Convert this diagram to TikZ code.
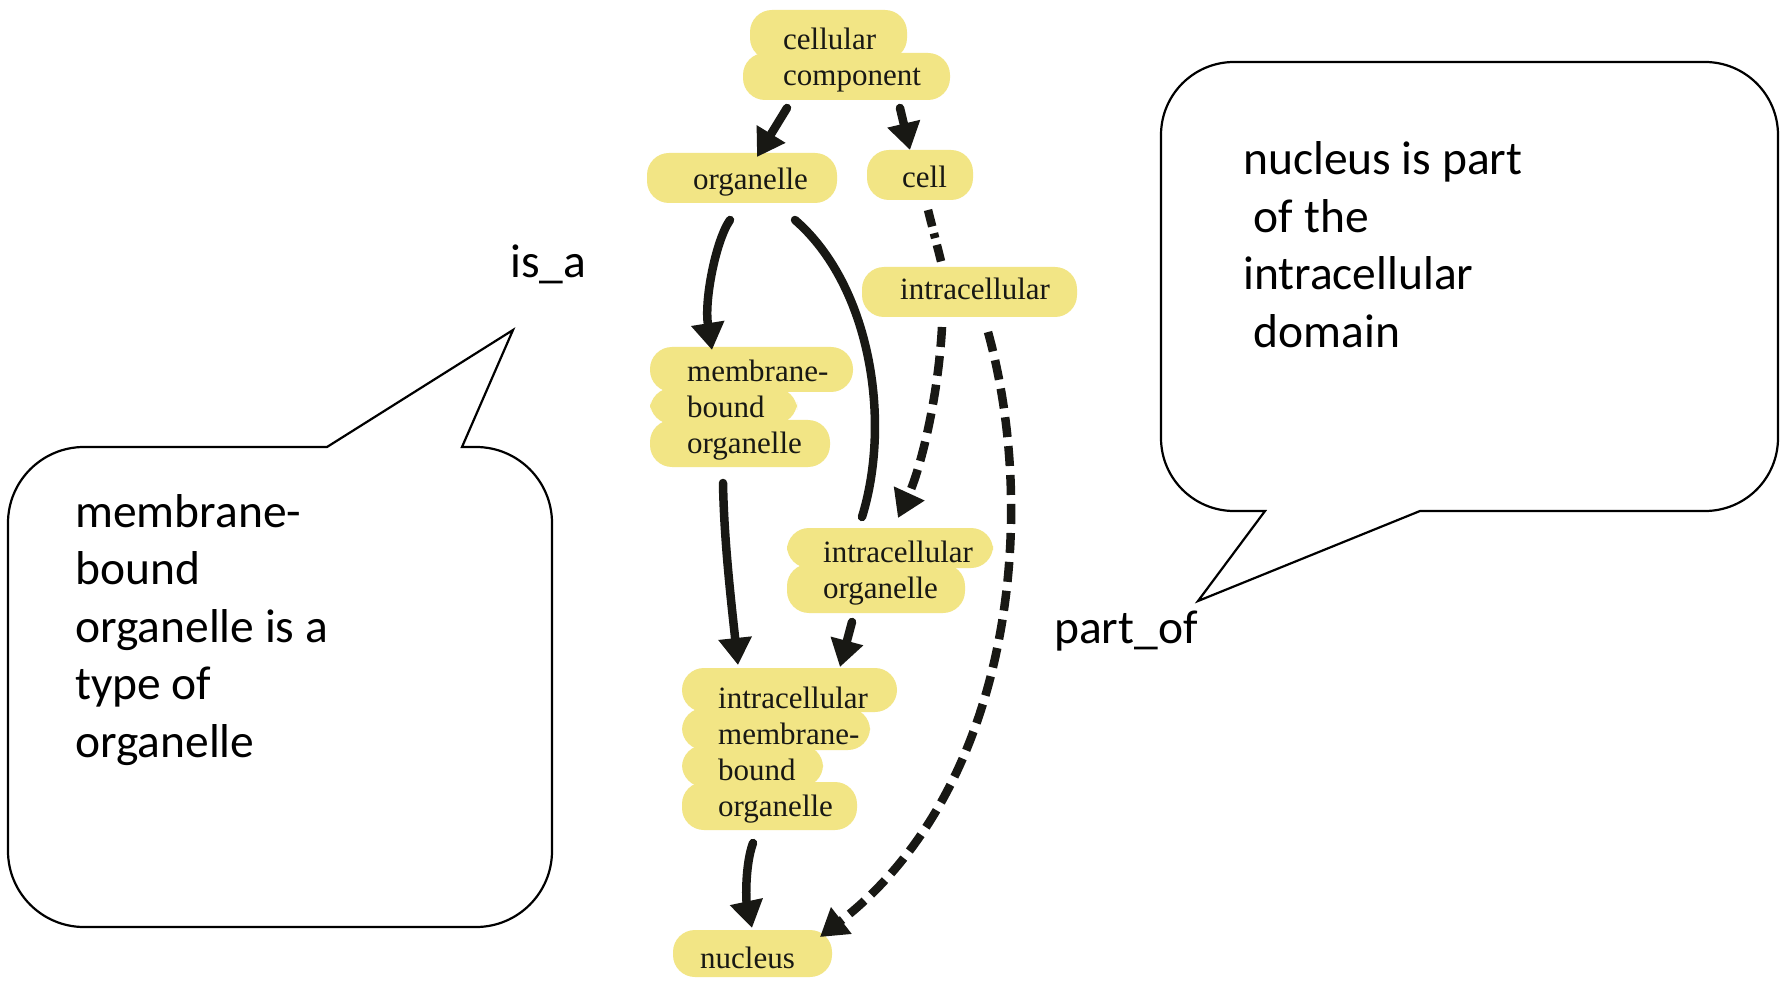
\documentclass[tikz,border=0pt]{standalone}
\usepackage{fontspec}
\setmainfont{Liberation Serif}
\newfontfamily\calfont{Carlito}
\usetikzlibrary{arrows.meta}
\definecolor{hl}{RGB}{242,229,133}
\definecolor{ink}{RGB}{24,24,20}
\newcommand\lns[1]{\begin{tabular}[t]{@{}l@{}}#1\end{tabular}}
\begin{document}
\begin{tikzpicture}[x=1pt,y=1pt,
  term/.style={anchor=base west, inner sep=0pt, font=\fontsize{31}{36}\selectfont, text=ink},
  blob/.style={fill=hl, rounded corners=22pt},
  isa/.style={line width=8.5pt, draw=ink, line cap=round, -{Triangle[width=32pt,length=27pt]}},
  isaplain/.style={line width=8.5pt, draw=ink, line cap=round},
  partof/.style={line width=8.5pt, draw=ink, dash pattern=on 20pt off 9pt, -{Triangle[width=32pt,length=27pt]}},
  dashdot/.style={line width=8.5pt, draw=ink, dash pattern=on 17pt off 7pt on 5pt off 7pt},
  callout/.style={draw=black, line width=2.2pt, line join=miter},
  note/.style={anchor=base west, inner sep=0pt, font=\calfont\fontsize{47.5}{57.5}\selectfont}
]
\fill[white] (0,0) rectangle (1781,-981);
\useasboundingbox (0,0) rectangle (1781,-981);

% highlighter blobs
\fill[blob] (750,-10) rectangle (907,-60);
\fill[blob] (743,-53) rectangle (950,-100);
\fill[blob] (647,-153) rectangle (837,-203);
\fill[blob] (867,-150) rectangle (973,-200);
\fill[blob] (862,-267) rectangle (1077,-317);
\fill[blob] (650,-347) rectangle (853,-392);
\fill[blob] (650,-388) rectangle (797,-424);
\fill[blob] (650,-420) rectangle (830,-467);
\fill[blob] (787,-528) rectangle (993,-568);
\fill[blob] (787,-564) rectangle (965,-613);
\fill[blob] (682,-668) rectangle (897,-712);
\fill[blob] (682,-708) rectangle (870,-750);
\fill[blob] (682,-745) rectangle (823,-787);
\fill[blob] (682,-782) rectangle (857,-830);
\fill[blob] (673,-930) rectangle (832,-977);

% terms
\node[term] (cc) at (783,-50) {\lns{cellular\\component}};
\node[term] (org) at (693,-190) {\lns{organelle}};
\node[term] (cell) at (902,-188) {\lns{cell}};
\node[term] (intra) at (900,-300) {\lns{intracellular}};
\node[term] (mbo) at (687,-382) {\lns{membrane-\\bound\\organelle}};
\node[term] (io) at (823,-562) {\lns{intracellular\\organelle}};
\node[term] (imbo) at (718,-708) {\lns{intracellular\\membrane-\\bound\\organelle}};
\node[term] (nuc) at (700,-968) {\lns{nucleus}};

% connectors
\draw[isa] ([shift={(4,-58)}]cc.base west) -- ([shift={(64,33)}]org.base west);
\draw[isa] ([shift={(117,-58)}]cc.base west) -- ([shift={(8,38)}]cell.base west);
\draw[dashdot] ([shift={(26,-22)}]cell.base west) -- ([shift={(42,35)}]intra.base west);
\draw[isa] ([shift={(37,-30)}]org.base west) .. controls (716,-240) and (704,-300) .. ([shift={(25,32)}]mbo.base west);
\draw[isaplain] ([shift={(102,-30)}]org.base west) .. controls (870,-285) and (892,-420) .. ([shift={(39,45)}]io.base west);
\draw[partof] ([shift={(42,-27)}]intra.base west) .. controls (938,-400) and (920,-470) .. ([shift={(75,44)}]io.base west);
\draw[partof] ([shift={(88,-32)}]intra.base west) .. controls (1040,-520) and (1010,-790) .. ([shift={(120,31)}]nuc.base west);
\draw[isa] ([shift={(36,-101)}]mbo.base west) .. controls (724,-540) and (731,-600) .. ([shift={(20,43)}]imbo.base west);
\draw[isa] ([shift={(29,-60)}]io.base west) -- ([shift={(122,41)}]imbo.base west);
\draw[isa] ([shift={(35,-135)}]imbo.base west) .. controls (745,-865) and (746,-900) .. ([shift={(52,40)}]nuc.base west);

% callouts
\draw[callout] (327,-447) -- (513,-330) -- (462,-447) -- (476,-447)
  arc[start angle=90,end angle=0,radius=76] -- (552,-851)
  arc[start angle=0,end angle=-90,radius=76] -- (84,-927)
  arc[start angle=-90,end angle=-180,radius=76] -- (8,-523)
  arc[start angle=180,end angle=90,radius=76] -- cycle;
\draw[callout] (1265,-511) -- (1198,-601) -- (1420,-511) -- (1705,-511)
  arc[start angle=-90,end angle=0,radius=73] -- (1778,-135)
  arc[start angle=0,end angle=90,radius=73] -- (1234,-62)
  arc[start angle=90,end angle=180,radius=73] -- (1161,-438)
  arc[start angle=180,end angle=270,radius=73] -- cycle;

\node[note] (lnote) at (75,-527) {\lns{membrane-\\bound\\organelle is a\\type of\\organelle}};
\node[note] (rnote) at (1243,-175) {\lns{nucleus is part\\\ of the\\intracellular\\\ domain}};
\node[note] (lblisa) at (510,-278) {is\_a};
\node[note] (lblpartof) at (1054,-643) {part\_of};
\end{tikzpicture}
\end{document}
